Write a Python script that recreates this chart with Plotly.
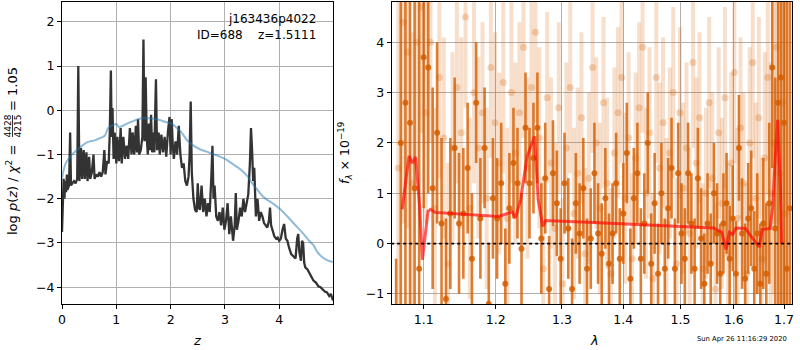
import math
import plotly.graph_objects as go

# ---- redshift fit: log p(z) ----
z_grid = [0.00, 0.02, 0.03, 0.045, 0.06, 0.075, 0.09, 0.10, 0.115, 0.13,
          0.15, 0.165, 0.19, 0.22, 0.25, 0.28, 0.30, 0.32, 0.35, 0.37,
          0.40, 0.42, 0.45, 0.47, 0.50, 0.52, 0.55, 0.58, 0.60, 0.63,
          0.66, 0.69, 0.72, 0.75, 0.78, 0.80, 0.83, 0.86, 0.88, 0.90,
          0.915, 0.93, 0.95, 0.97, 1.00, 1.02, 1.05, 1.08, 1.10, 1.13,
          1.16, 1.19, 1.22, 1.25, 1.28, 1.30, 1.33, 1.36, 1.38, 1.40,
          1.42, 1.45, 1.48, 1.50, 1.52, 1.54, 1.56, 1.58, 1.60, 1.62,
          1.64, 1.66, 1.68, 1.70, 1.73, 1.75, 1.78, 1.80, 1.83, 1.86,
          1.89, 1.92, 1.95, 1.98, 2.00, 2.02, 2.04, 2.06, 2.09, 2.12,
          2.15, 2.18, 2.21, 2.24, 2.27, 2.30, 2.33, 2.35, 2.37, 2.39,
          2.42, 2.45, 2.48, 2.50, 2.52, 2.54, 2.57, 2.60, 2.63, 2.66,
          2.69, 2.72, 2.75, 2.77, 2.79, 2.81, 2.84, 2.87, 2.90, 2.93,
          2.96, 2.99, 3.02, 3.05, 3.08, 3.11, 3.15, 3.18, 3.20, 3.22,
          3.25, 3.28, 3.31, 3.34, 3.37, 3.40, 3.43, 3.46, 3.48, 3.50,
          3.52, 3.54, 3.57, 3.60, 3.63, 3.66, 3.69, 3.72, 3.75, 3.78,
          3.81, 3.83, 3.85, 3.88, 3.91, 3.94, 3.97, 4.00, 4.03, 4.06,
          4.09, 4.12, 4.15, 4.18, 4.22, 4.26, 4.30, 4.33, 4.35, 4.37,
          4.40, 4.42, 4.44, 4.46, 4.48, 4.52, 4.58, 4.63, 4.68, 4.72,
          4.76, 4.80, 4.84, 4.88, 4.92, 4.95, 4.97, 4.99]
log_pz = [-2.75, -1.9, -1.55, -2.0, -1.6, -1.85, -1.45, -1.8, -1.75, -1.7,
          -0.5, -1.7, -1.65, -1.6, -1.65, -1.55, 1.0, -1.6, -0.85, -1.55,
          -0.9, -1.55, -0.95, -1.6, -1.05, -1.55, -1.4, -1.0, -1.55, -1.45,
          -1.5, -1.4, -1.5, -1.4, -0.9, -1.45, -1.15, -1.2, -0.5, 0.9,
          -0.6, 0.05, -1.1, -0.5, -1.2, -0.6, -1.15, -0.4, -1.2, -0.6,
          -1.1, -0.8, -1.1, -0.4, -1.0, -0.5, -1.0, -0.35, -0.95, -0.2,
          -1.0, -0.9, -0.6, 1.6, -0.7, 0.75, -0.6, -1.0, -0.3, -0.9,
          -0.1, -0.95, -0.5, -0.95, 0.7, -0.9, -0.5, -1.0, -0.55, -0.95,
          -0.6, -1.05, -0.5, -0.15, -1.0, -0.2, -0.8, -1.1, -0.7, -1.0,
          -0.35, -1.0, -1.3, -1.2, -1.6, -1.7, -1.5, -1.0, 0.2, -1.4,
          -2.0, -2.25, -2.3, -1.65, -2.2, -2.25, -1.7, -2.3, -2.0, -2.4,
          -2.1, -2.3, -1.5, -0.8, -2.0, -1.7, -2.4, -2.5, -2.3, -2.6,
          -2.2, -2.7, -2.5, -2.1, -2.8, -2.4, -2.95, -2.6, -1.87, -2.7,
          -2.5, -2.2, -2.4, -2.0, -2.3, -2.1, -1.9, -1.2, -0.4, -0.9,
          -1.6, -1.3, -2.4, -2.0, -2.5, -2.3, -2.4, -2.55, -2.6, -2.65,
          -2.5, -2.2, -2.6, -2.75, -2.85, -2.9, -2.88, -2.95, -2.9, -2.7,
          -2.57, -2.9, -2.95, -3.1, -3.25, -3.3, -3.35, -2.9, -2.8, -3.2,
          -3.4, -2.95, -3.0, -3.45, -3.55, -3.6, -3.75, -3.85, -3.9, -3.98,
          -4.0, -4.05, -4.1, -4.12, -4.2, -4.15, -4.25, -4.3]

# smooth chi-square curve
chi_z = [0.0, 0.03, 0.06, 0.09, 0.15, 0.2, 0.27, 0.35, 0.45, 0.52,
         0.6, 0.7, 0.79, 0.84, 0.88, 0.95, 1.0, 1.05, 1.1, 1.2,
         1.3, 1.4, 1.5, 1.6, 1.7, 1.8, 1.9, 2.02, 2.1, 2.2,
         2.3, 2.4, 2.54, 2.7, 2.85, 3.0, 3.15, 3.3, 3.42, 3.52,
         3.6, 3.7, 3.77, 3.9, 4.03, 4.15, 4.3, 4.45, 4.55, 4.63,
         4.7, 4.8, 4.9, 4.99]
chi_val = [-1.55, -1.35, -1.22, -1.15, -1.05, -0.98, -0.9, -0.82, -0.73, -0.7,
           -0.68, -0.63, -0.57, -0.42, -0.37, -0.33, -0.31, -0.38, -0.36, -0.3,
           -0.25, -0.2, -0.18, -0.18, -0.19, -0.22, -0.26, -0.3, -0.38, -0.5,
           -0.67, -0.78, -0.88, -0.95, -1.02, -1.1, -1.22, -1.35, -1.5, -1.68,
           -1.8, -1.95, -2.02, -2.12, -2.25, -2.4, -2.6, -2.8, -2.95, -3.05,
           -3.2, -3.33, -3.4, -3.43]

# ---- G141 spectrum, beam A ----
wave_a = [1.064, 1.070, 1.076, 1.082, 1.088, 1.094, 1.100, 1.106, 1.112, 1.118,
          1.124, 1.130, 1.136, 1.142, 1.148, 1.154, 1.160, 1.166, 1.172, 1.178,
          1.184, 1.190, 1.196, 1.202, 1.208, 1.214, 1.220, 1.226, 1.232, 1.238,
          1.244, 1.250, 1.256, 1.262, 1.268, 1.274, 1.280, 1.286, 1.292, 1.298,
          1.304, 1.310, 1.316, 1.322, 1.328, 1.334, 1.340, 1.346, 1.352, 1.358,
          1.364, 1.370, 1.376, 1.382, 1.388, 1.394, 1.400, 1.406, 1.412, 1.418,
          1.424, 1.430, 1.436, 1.442, 1.448, 1.454, 1.460, 1.466, 1.472, 1.478,
          1.484, 1.490, 1.496, 1.502, 1.508, 1.514, 1.520, 1.526, 1.532, 1.538,
          1.544, 1.550, 1.556, 1.562, 1.568, 1.574, 1.580, 1.586, 1.592, 1.598,
          1.604, 1.610, 1.616, 1.622, 1.628, 1.634, 1.640, 1.646, 1.652, 1.658,
          1.664, 1.670, 1.676, 1.682, 1.688, 1.694, 1.700, 1.706, 1.712]
flux_a = [-1.5, 2.0, 2.8, 2.4, 1.1, -0.5, 3.7, 3.5, 1.1, 2.2,
          0.4, -1.1, 0.6, 1.9, 0.4, 0.6, 1.5, -0.3, 2.8, 0.5,
          1.9, -1.2, 0.9, 0.5, 1.2, -0.8, 0.7, 1.6, 1.2, -0.1,
          2.3, 1.2, 1.7, 2.3, 0.1, 1.3, -0.9, 1.4, 0.8, -0.3,
          1.2, 0.3, -0.9, 0.8, 0.2, 1.1, -0.5, 0.1, 1.4, 0.2,
          -0.2, 0.9, -0.4, 0.2, 1.2, -0.3, 0.6, 1.8, -0.7, 0.9,
          1.4, -0.3, 0.4, 2.0, -0.4, 0.8, -0.6, 1.0, -0.5, 0.7,
          1.5, -0.5, 1.4, 0.2, -0.3, 1.4, 0.4, -0.5, 1.3, 0.1,
          -0.8, 0.4, -0.4, 1.0, 0.2, -0.6, 0.4, 0.8, -0.3, 0.5,
          -0.6, 1.9, 0.2, -0.7, 0.5, 0.7, -0.5, 0.2, -0.8, 0.4,
          -0.6, 0.8, 3.5, 0.3, 2.8, 3.3, 2.4, -0.5, 0.7]
err_a = [1.2, 6.0, 6.0, 6.0, 6.0, 6.0, 3.0, 2.5, 2.0, 1.8,
         1.7, 1.6, 1.5, 1.4, 1.4, 1.3, 1.3, 1.3, 1.2, 1.2,
         1.2, 1.2, 1.2, 1.2, 1.2, 1.1, 1.1, 1.1, 1.1, 1.1,
         1.1, 1.1, 1.1, 1.1, 1.1, 1.1, 1.05, 1.05, 1.05, 1.0,
         1.0, 1.0, 1.0, 1.0, 1.0, 1.0, 1.0, 1.0, 1.0, 1.0,
         1.0, 1.0, 1.0, 1.0, 1.0, 1.0, 1.0, 1.0, 1.0, 1.0,
         1.0, 1.0, 1.0, 1.0, 1.0, 1.0, 1.0, 1.0, 1.0, 1.0,
         1.0, 1.0, 1.0, 1.0, 1.0, 1.0, 1.0, 1.0, 1.0, 1.0,
         1.0, 1.0, 1.0, 1.0, 1.0, 1.0, 1.0, 1.0, 1.05, 1.05,
         1.05, 1.05, 1.1, 1.1, 1.1, 1.15, 1.15, 1.2, 1.2, 1.3,
         1.4, 1.6, 2.0, 3.0, 6.0, 6.0, 6.0, 6.0, 6.0]

# ---- G141 spectrum, beam B ----
wave_b = [1.067, 1.073, 1.079, 1.085, 1.091, 1.097, 1.103, 1.109, 1.115, 1.121,
          1.127, 1.133, 1.139, 1.145, 1.151, 1.157, 1.163, 1.169, 1.175, 1.181,
          1.187, 1.193, 1.199, 1.205, 1.211, 1.217, 1.223, 1.229, 1.235, 1.241,
          1.247, 1.253, 1.259, 1.265, 1.271, 1.277, 1.283, 1.289, 1.295, 1.301,
          1.307, 1.313, 1.319, 1.325, 1.331, 1.337, 1.343, 1.349, 1.355, 1.361,
          1.367, 1.373, 1.379, 1.385, 1.391, 1.397, 1.403, 1.409, 1.415, 1.421,
          1.427, 1.433, 1.439, 1.445, 1.451, 1.457, 1.463, 1.469, 1.475, 1.481,
          1.487, 1.493, 1.499, 1.505, 1.511, 1.517, 1.523, 1.529, 1.535, 1.541,
          1.547, 1.553, 1.559, 1.565, 1.571, 1.577, 1.583, 1.589, 1.595, 1.601,
          1.607, 1.613, 1.619, 1.625, 1.631, 1.637, 1.643, 1.649, 1.655, 1.661,
          1.667, 1.673, 1.679, 1.685, 1.691, 1.697, 1.703]
flux_b = [1.5, 4.4, 3.8, 1.2, 4.0, 4.7, 2.6, 4.0, 0.7, 3.3,
          2.1, -0.4, 1.9, 3.1, 2.2, 4.5, 0.7, 3.0, 1.9, 2.6,
          0.9, 3.5, 2.4, 1.6, 3.2, 0.5, 3.0, 1.8, 2.6, 3.9,
          1.5, 3.1, 4.2, 2.1, -0.5, 2.9, 1.6, 0.3, 2.7, -0.8,
          1.9, 3.1, 0.6, 1.4, 2.5, -0.2, 1.3, 3.5, 2.0, 0.7,
          2.8, 1.2, -0.6, 1.8, 2.6, 3.3, 0.9, 2.1, -0.3, 1.7,
          2.7, 3.9, 1.0, 2.2, -0.7, 3.3, 1.5, 2.4, 0.4, 1.8,
          3.0, -0.4, 2.6, 1.1, 1.9, 0.2, 3.6, 1.6, 2.5, -0.5,
          1.0, 2.8, 1.3, -0.9, 2.2, 0.8, 2.9, -0.2, 1.6, 3.4,
          0.5, 2.3, 1.2, -0.6, 2.0, 3.6, 0.9, 2.5, -0.3, 1.7,
          3.3, 1.0, 2.0, 3.9, 1.4, 2.8, 0.6]
err_b = [5.0, 4.0, 3.5, 3.0, 2.5, 2.5, 2.2, 2.0, 2.0, 2.0,
         2.0, 2.0, 1.9, 1.9, 1.9, 1.8, 1.8, 1.8, 1.8, 1.8,
         1.8, 1.8, 1.8, 1.8, 1.8, 1.8, 1.8, 1.8, 1.8, 1.8,
         1.8, 1.8, 1.8, 1.8, 1.8, 1.7, 1.7, 1.7, 1.7, 1.7,
         1.7, 1.7, 1.7, 1.7, 1.7, 1.7, 1.7, 1.7, 1.7, 1.7,
         1.7, 1.7, 1.7, 1.7, 1.7, 1.7, 1.7, 1.7, 1.7, 1.7,
         1.7, 1.7, 1.7, 1.7, 1.7, 1.7, 1.7, 1.7, 1.7, 1.7,
         1.7, 1.7, 1.7, 1.7, 1.7, 1.7, 1.7, 1.7, 1.7, 1.7,
         1.7, 1.7, 1.7, 1.7, 1.7, 1.7, 1.8, 1.8, 1.8, 1.8,
         1.8, 1.8, 1.8, 1.8, 1.9, 1.9, 1.9, 2.0, 2.0, 2.1,
         2.3, 2.6, 3.0, 3.5, 4.0, 4.5, 5.0]

# ---- best-fit model ----
model_wave = [1.0717, 1.0807, 1.0850, 1.0893, 1.0946, 1.0983, 1.1057, 1.1092, 1.1150, 1.2046,
              1.2241, 1.2289, 1.2366, 1.2465, 1.2576, 1.2632, 1.2702, 1.2745, 1.3500, 1.4500,
              1.5614, 1.5770, 1.5850, 1.5915, 1.5977, 1.6042, 1.6222, 1.6500, 1.6557, 1.6718,
              1.6770, 1.6820, 1.6870, 1.6926, 1.6950]
model_flux = [0.68, 1.74, 1.6, 1.72, 0.74, -0.32, 0.64, 0.68, 0.62, 0.54,
              0.63, 0.51, 0.87, 1.74, 2.13, 0.87, 0.34, 0.46, 0.42, 0.37,
              0.31, 0.22, -0.12, 0.22, 0.18, 0.31, 0.30, -0.07, 0.28, 0.30,
              0.74, 1.67, 2.46, 1.14, 0.0]

z_ticks = [0, 1, 2, 3, 4]
logp_ticks = [-4, -3, -2, -1, 0, 1, 2]
wave_ticks = [1.1, 1.2, 1.3, 1.4, 1.5, 1.6, 1.7]
flux_ticks = [-1, 0, 1, 2, 3, 4]

FONT = "DejaVu Sans"
GRID = "#b0b0b0"
ORANGE = "213,94,0"

# page geometry (plot area spans 62..792 px horizontally, 2..304 px vertically)
L, R, T, B = 62, 8, 2, 46
W, H = 800, 350
PW, PH = W - L - R, H - T - B


def px(x):
    return (x - L) / PW


def py(y):
    return (H - B - y) / PH


fig = go.Figure()

fig.add_trace(go.Scatter(x=z_grid, y=log_pz, mode="lines", xaxis="x", yaxis="y",
                         line=dict(color="#333333", width=2.3), hoverinfo="skip"))
fig.add_trace(go.Scatter(x=chi_z, y=chi_val, mode="lines", xaxis="x", yaxis="y",
                         line=dict(color="rgba(31,119,180,0.5)", width=2, shape="spline"),
                         hoverinfo="skip"))

fig.add_trace(go.Scatter(x=wave_b, y=flux_b, mode="markers", xaxis="x2", yaxis="y2",
                         marker=dict(size=7, color=f"rgba({ORANGE},0.25)", line=dict(width=0)),
                         error_y=dict(type="data", array=err_b, color=f"rgba({ORANGE},0.2)",
                                      thickness=4, width=0),
                         hoverinfo="skip"))
fig.add_trace(go.Scatter(x=wave_a, y=flux_a, mode="markers", xaxis="x2", yaxis="y2",
                         marker=dict(size=6, color=f"rgba({ORANGE},0.85)", line=dict(width=0)),
                         error_y=dict(type="data", array=err_a, color=f"rgba({ORANGE},0.8)",
                                      thickness=2.6, width=0),
                         hoverinfo="skip"))
fig.add_trace(go.Scatter(x=model_wave, y=model_flux, mode="lines", xaxis="x2", yaxis="y2",
                         line=dict(color="rgba(255,0,0,0.65)", width=3), hoverinfo="skip"))
fig.add_trace(go.Scatter(x=[1.05, 1.72], y=[0, 0], mode="lines", xaxis="x2", yaxis="y2",
                         line=dict(color="black", width=1.6, dash="dot"), hoverinfo="skip"))

axis_common = dict(showgrid=True, gridcolor=GRID, gridwidth=1, showline=True, mirror=True,
                   linecolor="black", linewidth=1, ticks="outside", ticklen=4, tickwidth=1,
                   tickcolor="black", zeroline=False, tickfont=dict(family=FONT, size=12.5, color="black"))

x_split_left = px(333)
x_split_right = px(391.7)

fig.update_layout(
    width=W, height=H, autosize=False,
    margin=dict(l=L, r=R, t=T, b=B, pad=0),
    plot_bgcolor="white", paper_bgcolor="white",
    showlegend=False,
    font=dict(family=FONT, size=12.5, color="black"),
    xaxis=dict(domain=[0, x_split_left], range=[0, 4.99], tickvals=z_ticks, anchor="y", **axis_common),
    yaxis=dict(domain=[0, 1], range=[-4.38, 2.45], tickvals=logp_ticks, anchor="x", **axis_common),
    xaxis2=dict(domain=[x_split_right, 1], type="log",
                range=[math.log10(1.0583), math.log10(1.7165)],
                tickvals=wave_ticks, ticktext=[f"{v:.1f}" for v in wave_ticks],
                anchor="y2", **axis_common),
    yaxis2=dict(domain=[0, 1], range=[-1.2, 4.8], tickvals=flux_ticks, anchor="x2", **axis_common),
)


def note(x, y, text, size, angle=0, xanchor="center"):
    return dict(x=px(x), y=py(y), xref="paper", yref="paper", xanchor=xanchor, yanchor="middle",
                textangle=angle, text=text, showarrow=False, font=dict(size=size, family=FONT))


ann = [
    note(318, 19, "j163436p4022", 12, xanchor="right"),
    note(318, 35, "ID=688&nbsp;&nbsp;&nbsp;&nbsp;z=1.5111", 12, xanchor="right"),
    note(197, 340, "<i>z</i>", 13),
    note(594, 340, "<i>λ</i>", 13),
    note(742, 339, "Sun Apr 26 11:16:29 2020", 6.8),
    note(345, 153, "<i>f</i><sub><i>λ</i></sub> × 10<sup>−19</sup>", 12.5, angle=-90),
    # left axis label with a stacked fraction
    note(12, 190, "log <i>p</i>(<i>z</i>) / <i>χ</i><sup>2</sup> =", 13, angle=-90),
    note(7.5, 126, "4428", 9, angle=-90),
    note(17.5, 126, "4215", 9, angle=-90),
    note(12, 89, "= 1.05", 13, angle=-90),
]
fig.update_layout(annotations=ann)

fig.add_shape(type="line", xref="paper", yref="paper",
              x0=px(12.5), x1=px(12.5), y0=py(115), y1=py(137),
              line=dict(color="black", width=0.8))

fig.write_html("out.html")
